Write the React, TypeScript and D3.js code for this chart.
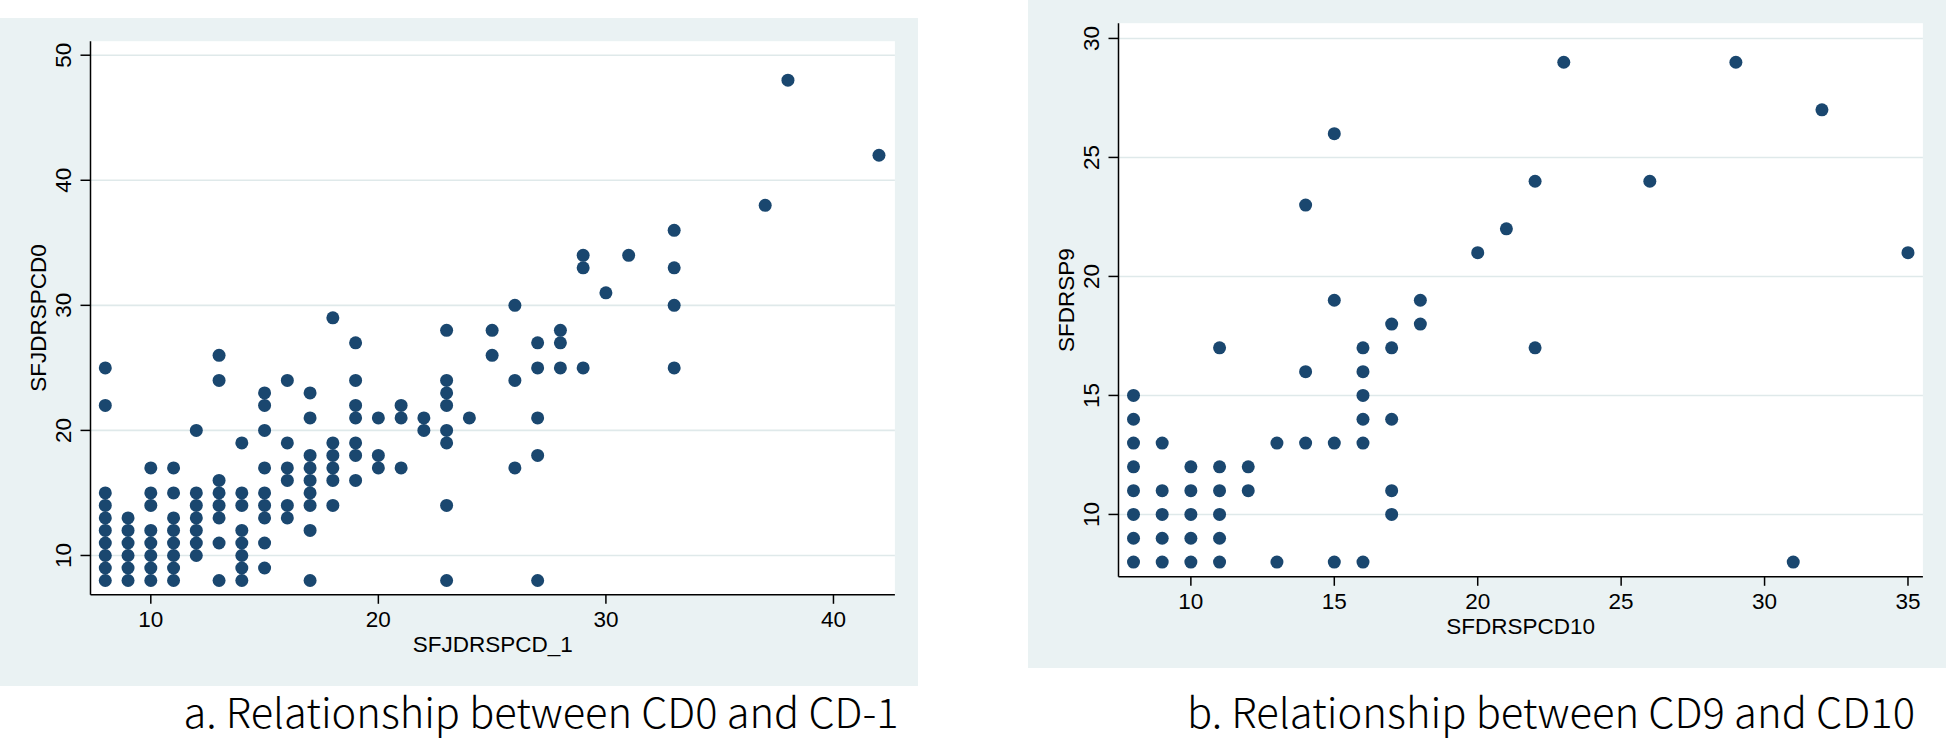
import React from 'react';
import * as d3 from 'd3';

// ---------- Panel a data: SFJDRSPCD_1 (x) vs SFJDRSPCD0 (y) ----------
const A_CD1 = [8, 9, 10, 11, 12, 13, 14, 15, 16, 17, 18, 19, 20, 21, 22, 23, 24, 25, 26, 27, 28, 29, 30, 31, 33, 37, 38, 42];
const A_CD0 = [
  [8, 9, 10, 11, 12, 13, 14, 15, 22, 25],
  [8, 9, 10, 11, 12, 13],
  [8, 9, 10, 11, 12, 14, 15, 17],
  [8, 9, 10, 11, 12, 13, 15, 17],
  [10, 11, 12, 13, 14, 15, 20],
  [8, 11, 13, 14, 15, 16, 24, 26],
  [8, 9, 10, 11, 12, 14, 15, 19],
  [9, 11, 13, 14, 15, 17, 20, 22, 23],
  [13, 14, 16, 17, 19, 24],
  [8, 12, 14, 15, 16, 17, 18, 21, 23],
  [14, 16, 17, 18, 19, 29],
  [16, 18, 19, 21, 22, 24, 27],
  [17, 18, 21],
  [17, 21, 22],
  [20, 21],
  [8, 14, 19, 20, 22, 23, 24, 28],
  [21],
  [26, 28],
  [17, 24, 30],
  [8, 18, 21, 25, 27],
  [25, 27, 28],
  [25, 33, 34],
  [31],
  [34],
  [25, 30, 33, 36],
  [38],
  [48],
  [42],
];
const A_XTICKS = [10, 20, 30, 40];
const A_YTICKS = [10, 20, 30, 40, 50];

// ---------- Panel b data: SFDRSPCD10 (x) vs SFDRSP9 (y) ----------
const B_CD10 = [8, 9, 10, 11, 12, 13, 14, 15, 16, 17, 18, 20, 21, 22, 23, 26, 29, 31, 32, 35];
const B_SP9 = [
  [8, 9, 10, 11, 12, 13, 14, 15],
  [8, 9, 10, 11, 13],
  [8, 9, 10, 11, 12],
  [8, 9, 10, 11, 12, 17],
  [11, 12],
  [8, 13],
  [13, 16, 23],
  [8, 13, 19, 26],
  [8, 13, 14, 15, 16, 17],
  [10, 11, 14, 17, 18],
  [18, 19],
  [21],
  [22],
  [17, 24],
  [29],
  [24],
  [29],
  [8],
  [27],
  [21],
];
const B_XTICKS = [10, 15, 20, 25, 30, 35];
const B_YTICKS = [10, 15, 20, 25, 30];

const BG = '#eaf2f3';
const GRID = '#dfe9ea';
const MARK = '#1a476f';
const AXIS_FONT = '"Liberation Sans", Arial, Helvetica, sans-serif';
const CAP_FONT = '"Noto Sans CJK JP", "Noto Sans", sans-serif';

const PW = 918;
const PH = 668;
const PL = 90.5;
const PT = 23.2;
const PLW = 804.4;
const PLH = 553.6;
const FS = 22.5;

type PanelProps = {
  ox: number;
  oy: number;
  xs: number[];
  ys: number[][];
  xDomain: [number, number];
  yDomain: [number, number];
  xTicks: number[];
  yTicks: number[];
  xTitle: string;
  yTitle: string;
};

function Panel(p: PanelProps) {
  const x = d3.scaleLinear().domain(p.xDomain).range([PL, PL + PLW]);
  const y = d3.scaleLinear().domain(p.yDomain).range([PT + PLH, PT]);
  const pts: { cx: number; cy: number }[] = [];
  p.xs.forEach((xv, i) => p.ys[i].forEach((yv) => pts.push({ cx: x(xv), cy: y(yv) })));
  const bottom = PT + PLH;
  const capH = FS * 0.716;
  return (
    <g transform={`translate(${p.ox},${p.oy})`}>
      <rect x={0} y={0} width={PW} height={PH} fill={BG} />
      <rect x={PL} y={PT} width={PLW} height={PLH} fill="#ffffff" />
      {p.yTicks.map((t) => (
        <line key={'g' + t} x1={PL} x2={PL + PLW} y1={y(t)} y2={y(t)} stroke={GRID} strokeWidth={1.6} />
      ))}
      {pts.map((d, i) => (
        <circle key={i} cx={d.cx} cy={d.cy} r={6.5} fill={MARK} />
      ))}
      <line x1={PL} x2={PL} y1={PT} y2={bottom} stroke="#000" strokeWidth={1.5} />
      <line x1={PL} x2={PL + PLW} y1={bottom} y2={bottom} stroke="#000" strokeWidth={1.5} />
      {p.yTicks.map((t) => (
        <g key={'y' + t}>
          <line x1={PL - 10} x2={PL} y1={y(t)} y2={y(t)} stroke="#000" strokeWidth={1.5} />
          <text
            transform={`translate(${PL - 27.5 + capH / 2},${y(t)}) rotate(-90)`}
            textAnchor="middle"
            fontFamily={AXIS_FONT}
            fontSize={FS}
            fill="#000"
          >
            {t}
          </text>
        </g>
      ))}
      {p.xTicks.map((t) => (
        <g key={'x' + t}>
          <line x1={x(t)} x2={x(t)} y1={bottom} y2={bottom + 9} stroke="#000" strokeWidth={1.5} />
          <text x={x(t)} y={bottom + 32.3} textAnchor="middle" fontFamily={AXIS_FONT} fontSize={FS} fill="#000">
            {t}
          </text>
        </g>
      ))}
      <text x={PL + PLW / 2} y={bottom + 57.3} textAnchor="middle" fontFamily={AXIS_FONT} fontSize={FS} fill="#000">
        {p.xTitle}
      </text>
      <text
        transform={`translate(${PL - 53 + capH / 2},${PT + PLH / 2}) rotate(-90)`}
        textAnchor="middle"
        fontFamily={AXIS_FONT}
        fontSize={FS}
        fill="#000"
      >
        {p.yTitle}
      </text>
    </g>
  );
}

export default function App() {
  return (
    <div style={{ position: 'absolute', left: 0, top: 0 }}>
      <svg width={1946} height={739} style={{ display: 'block', background: '#fff' }}>
        <Panel
          ox={0}
          oy={18}
          xs={A_CD1}
          ys={A_CD0}
          xDomain={[7.35, 42.7]}
          yDomain={[6.856, 51.12]}
          xTicks={A_XTICKS}
          yTicks={A_YTICKS}
          xTitle="SFJDRSPCD_1"
          yTitle="SFJDRSPCD0"
        />
        <Panel
          ox={1028}
          oy={0}
          xs={B_CD10}
          ys={B_SP9}
          xDomain={[7.477, 35.52]}
          yDomain={[7.38, 30.64]}
          xTicks={B_XTICKS}
          yTicks={B_YTICKS}
          xTitle="SFDRSPCD10"
          yTitle="SFDRSP9"
        />
        <text
          x={541}
          y={728}
          textAnchor="middle"
          fontFamily={CAP_FONT}
          fontWeight={300}
          fontSize={41}
          textLength={715}
          lengthAdjust="spacingAndGlyphs"
          fill="#000"
        >
          a. Relationship between CD0 and CD-1
        </text>
        <text
          x={1551}
          y={728}
          textAnchor="middle"
          fontFamily={CAP_FONT}
          fontWeight={300}
          fontSize={41}
          textLength={728}
          lengthAdjust="spacingAndGlyphs"
          fill="#000"
        >
          b. Relationship between CD9 and CD10
        </text>
      </svg>
    </div>
  );
}
